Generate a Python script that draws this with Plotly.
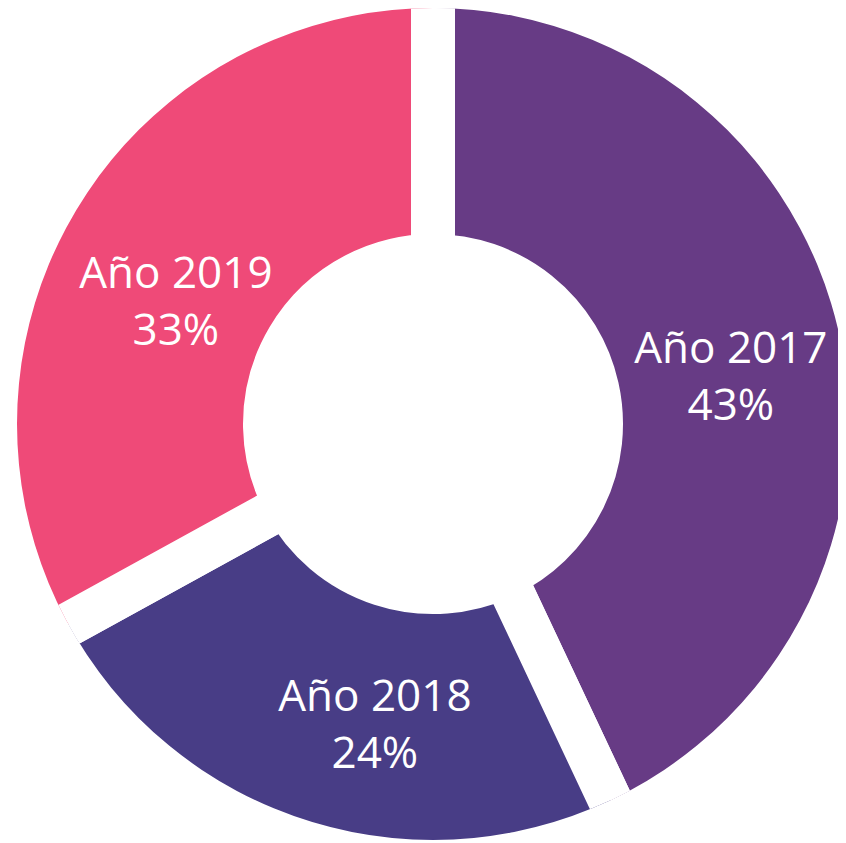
import numpy as np
import plotly.graph_objects as go

# ---- data ----
categories = ["Año 2017", "Año 2018", "Año 2019"]
percentages = [43, 24, 33]
colors = ["#673B85", "#483D86", "#EF4A78"]

# ---- derived angles (clockwise from 12 o'clock) ----
widths = [p * 3.6 for p in percentages]
starts = np.cumsum([0] + widths[:-1])
mids = [float(s + w / 2) for s, w in zip(starts, widths)]

# label placement tweaks (layout only)
label_nudge_deg = [4.3, -7.2, -5.9]
label_radius_px = [301, 310, 283]
label_theta = [m + n for m, n in zip(mids, label_nudge_deg)]
labels = [f"{c}<br>{p}%" for c, p in zip(categories, percentages)]

W, H = 846, 843
cx, cy, R = 425, 416, 416          # centre / radius in plot pixels
GAP = 44                           # white gap between slices (px)
HOLE_VIS = 190                     # visible hole radius (px)
R_MIN = -0.2                       # radial axis start

# hole fraction so that radial value 0 sits at HOLE_VIS - GAP/2
target = (HOLE_VIS - GAP / 2) / R
frac0 = (0 - R_MIN) / (1 - R_MIN)
hole = (target - frac0) / (1 - frac0)


def px_to_r(px):
    return (px - hole * R) / (R - hole * R) * (1 - R_MIN) + R_MIN


fig = go.Figure()
fig.add_trace(go.Barpolar(
    r=[1.6] * len(percentages),
    base=[0] * len(percentages),
    theta=mids,
    width=widths,
    marker=dict(color=colors, line=dict(color="white", width=GAP)),
    hoverinfo="skip",
    showlegend=False,
))
fig.add_trace(go.Scatterpolar(
    r=[px_to_r(p) for p in label_radius_px],
    theta=label_theta,
    mode="text",
    text=labels,
    textposition="middle center",
    textfont=dict(family="Open Sans", size=44, color="white"),
    hoverinfo="skip",
    showlegend=False,
))

fig.update_layout(
    width=W, height=H,
    margin=dict(l=0, r=0, t=0, b=0),
    paper_bgcolor="white",
    polar=dict(
        domain=dict(x=[(cx - R) / W, min(1, (cx + R) / W)],
                    y=[max(0, 1 - (cy + R) / H), 1 - (cy - R) / H]),
        hole=hole,
        bgcolor="white",
        angularaxis=dict(direction="clockwise", rotation=90, visible=False,
                         showgrid=False, showline=False, ticks=""),
        radialaxis=dict(range=[R_MIN, 1], visible=False, showgrid=False,
                        showline=False, ticks=""),
    ),
)

fig.write_html("out.html")
